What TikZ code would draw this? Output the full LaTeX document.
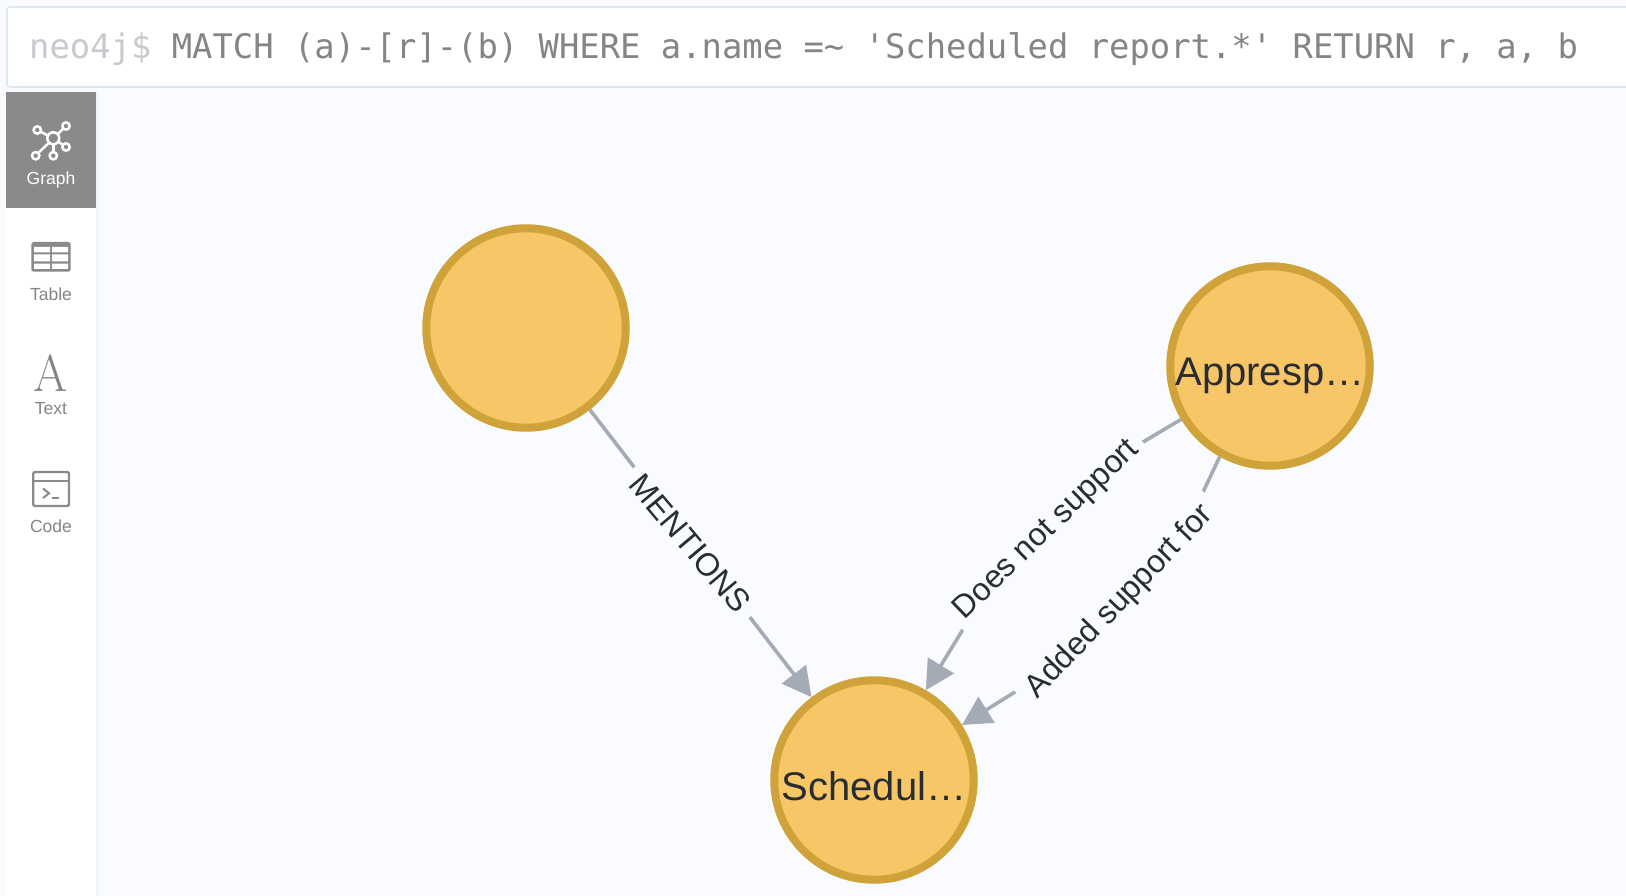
\documentclass[tikz,border=0pt]{standalone}
\usepackage{fontspec}
\usetikzlibrary{arrows.meta}
\setmainfont{Liberation Sans}
\newfontfamily\qfont{DejaVu Sans Mono}
\newfontfamily\afont{Latin Modern Roman}
\definecolor{pagebg}{HTML}{FAFBFE}
\definecolor{boxline}{HTML}{DCE7F3}
\definecolor{sidegray}{HTML}{8A8A8A}
\definecolor{promptc}{HTML}{C6C9CE}
\definecolor{querygray}{HTML}{858585}
\definecolor{nodefill}{HTML}{F6C667}
\definecolor{nodeline}{HTML}{D0A33A}
\definecolor{edgec}{HTML}{A5ABB6}
\definecolor{inkc}{HTML}{2A2C34}
\tikzset{
  gnode/.style={circle,draw=nodeline,fill=nodefill,line width=8pt,minimum size=199.5pt,inner sep=0pt,text=inkc,font=\fontsize{40}{40}\selectfont},
  gedge/.style={draw=edgec,line width=3.6pt,-{Triangle[length=29pt,width=30pt,fill=edgec]}},
  elabel/.style={fill=pagebg,text=inkc,font=\fontsize{32}{32}\selectfont,inner ysep=4pt},
  tablabel/.style={font=\fontsize{17.5}{18}\selectfont,text=querygray,inner sep=0pt},
  icon/.style={draw=sidegray,line width=2.4pt},
  wicon/.style={draw=white,line width=2.5pt}
}
\begin{document}
\begin{tikzpicture}[x=1pt,y=-1pt]
\useasboundingbox (0,0) rectangle (1626,896);
% backgrounds
\fill[pagebg] (0,0) rectangle (1626,896);
\fill[boxline!45] (96,92) rectangle (98.5,896);
\fill[white] (6,92) rectangle (96,896);
\fill[sidegray] (6,92) rectangle (96,208);
\draw[boxline,line width=1.6pt,fill=white,rounded corners=3pt] (7,7) rectangle (1640,87);
% query
\node[anchor=base west,inner sep=0pt,font=\qfont\fontsize{33.85}{34}\selectfont,text=querygray] (query) at (29,58.5)
  {\textcolor{promptc}{neo4j\$} MATCH (a)-[r]-(b) WHERE a.name =\char`\~{} 'Scheduled report.*' RETURN r, a, b};
% graph nodes
\node[gnode] (a) at (526,328) {};
\node[gnode] (b) at (1270,366) {\raisebox{-20pt}[0pt][0pt]{Appresp…}};
\node[gnode] (c) at (874,780) {\raisebox{-20.5pt}[0pt][0pt]{Schedul…}};
% edges
\coordinate (dctrl) at (1040,503);
\coordinate (actrl) at (1148,609);
\draw[gedge] (a.-52) -- (c.127.6);
\draw[gedge] (b.211.5) .. controls (dctrl) .. (c.60);
\draw[gedge] (b.241) .. controls (actrl) .. (c.32.6);
\node[elabel,rotate=-50,inner xsep=10pt] (lm) at (690.5,543.5) {MENTIONS};
\node[elabel,rotate=44,inner xsep=8pt] (ld) at (1047,530) {Does not support};
\node[elabel,rotate=46,inner xsep=10pt] (la) at (1120,602) {Added support for};
% graph icon
\coordinate (g0) at (53.3,138.3);
\foreach \n/\x/\y in {g1/37.3/130,g2/66/126,g3/66/147,g4/53.3/155.7,g5/35.7/155.7}{
  \draw[wicon] (g0) -- (\x,\y);
  \filldraw[wicon,fill=sidegray] (\x,\y) circle (3.7pt);
}
\filldraw[wicon,fill=sidegray] (g0) circle (6pt);
\node[tablabel,text=white] (tg) at (51,180) {Graph};
% table icon
\fill[sidegray,rounded corners=2.5pt] (31.3,242) rectangle (70.7,271.7);
\fill[white] (34,247) rectangle (50,252.3) (52,247) rectangle (68,252.3)
             (34,254.4) rectangle (50,261.4) (52,254.4) rectangle (68,261.4)
             (34,263.6) rectangle (50,269) (52,263.6) rectangle (68,269);
\node[tablabel] (tt) at (51,294.5) {Table};
% text icon
\node[inner sep=0pt,text=querygray,font=\afont\fontsize{52}{52}\selectfont] (ta) at (51,373) {\scalebox{.95}[1]{A}};
\node[tablabel] (tx) at (51,409) {Text};
% code icon
\draw[icon,rounded corners=2pt] (33.2,472) rectangle (69,506);
\draw[icon] (33.2,481) -- (69,481);
\draw[icon,line width=2pt] (43,488.5) -- (49,493.3) -- (43,498);
\draw[icon,line width=2pt] (51.7,497.8) -- (59.3,497.8);
\node[tablabel] (tc) at (51,526.5) {Code};
\end{tikzpicture}
\end{document}
